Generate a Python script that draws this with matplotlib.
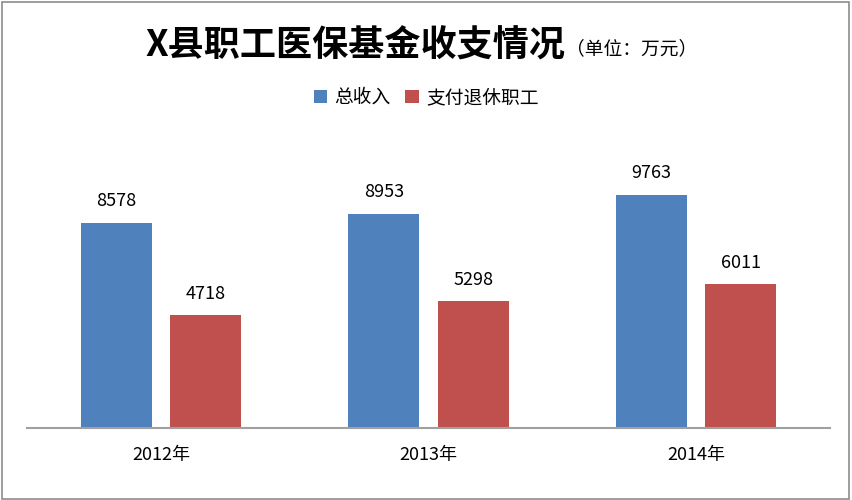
import matplotlib
matplotlib.use("Agg")
import matplotlib.pyplot as plt
from matplotlib.patches import Rectangle
import numpy as np

plt.rcParams['font.family'] = ['Noto Sans CJK SC', 'DejaVu Sans']

categories = ['2012年', '2013年', '2014年']
income = [8578, 8953, 9763]
payout = [4718, 5298, 6011]
series_names = ['总收入', '支付退休职工']
colors = ['#4F81BD', '#C0504D']

fig = plt.figure(figsize=(8.52, 5.0), dpi=100)
ax = fig.add_axes([0.0317, 0.144, 0.9425, 0.574])

x = np.arange(len(categories))
w = 0.265
off = 0.167
b1 = ax.bar(x - off, income, w, color=colors[0], label=series_names[0])
b2 = ax.bar(x + off, payout, w, color=colors[1], label=series_names[1])

for bars, vals in ((b1, income), (b2, payout)):
    for r, v in zip(bars, vals):
        ax.annotate(f'{v}', (r.get_x() + r.get_width() / 2, v),
                    xytext=(0, 9), textcoords='offset points',
                    ha='center', va='bottom', fontsize=13, color='black')

ax.set_xlim(-0.5, len(categories) - 0.5)
ax.set_ylim(0, 12000)
ax.set_xticks(x)
ax.set_xticklabels(categories, fontsize=13)
ax.tick_params(axis='x', length=0, pad=13)
ax.set_yticks([])
for s in ['left', 'right', 'top']:
    ax.spines[s].set_visible(False)
ax.spines['bottom'].set_color('#A0A0A0')
ax.spines['bottom'].set_linewidth(1.5)

# Title
fig.text(0.664, 0.907, 'X县职工医保基金收支情况', ha='right', va='center',
         fontsize=26, fontweight='bold', color='black')
fig.text(0.664, 0.903, '（单位：万元）', ha='left', va='center',
         fontsize=13.5, color='black')

# Legend
leg = fig.legend(handles=[b1, b2], labels=series_names, loc='center',
                 bbox_to_anchor=(0.5, 0.805), ncol=2, frameon=False,
                 fontsize=13.5, handlelength=0.7, handleheight=0.7,
                 handletextpad=0.4, columnspacing=0.8)

# Figure border
fig.patches.append(Rectangle((0.002, 0.003), 0.995, 0.993, transform=fig.transFigure,
                             fill=False, edgecolor='#8C8C8C', linewidth=1.2))

fig.savefig('out.png', dpi=100)
